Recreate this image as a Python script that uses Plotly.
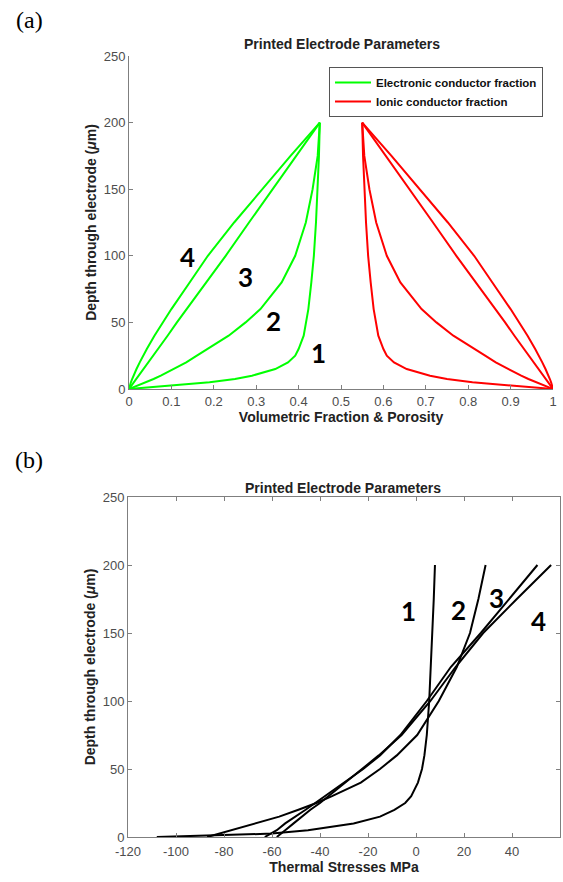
import plotly.graph_objects as go

# ---------------- (a) Volumetric fraction profiles ----------------
depth_a = [0, 1, 2.5, 5, 7.5, 10, 15, 20, 25, 30, 40, 50, 60, 80, 100, 125, 150, 175, 200]

green_1 = [0, 0.04, 0.10, 0.19, 0.25, 0.29, 0.345, 0.375, 0.392, 0.40, 0.412, 0.418, 0.423, 0.43, 0.436, 0.441, 0.445, 0.448, 0.45]
green_2 = [0, 0.008, 0.02, 0.04, 0.058, 0.075, 0.105, 0.135, 0.16, 0.185, 0.235, 0.275, 0.31, 0.36, 0.392, 0.417, 0.433, 0.445, 0.45]
green_3 = [0, 0.0023, 0.0056, 0.011, 0.017, 0.023, 0.034, 0.045, 0.057, 0.068, 0.091, 0.113, 0.136, 0.182, 0.228, 0.283, 0.338, 0.394, 0.45]
green_4 = [0, 0.0006, 0.0019, 0.0045, 0.0074, 0.0106, 0.0177, 0.0253, 0.0334, 0.042, 0.060, 0.0795, 0.100, 0.143, 0.186, 0.248, 0.314, 0.381, 0.45]

red_1 = [1, 0.96, 0.90, 0.81, 0.75, 0.71, 0.655, 0.625, 0.608, 0.60, 0.588, 0.582, 0.577, 0.57, 0.564, 0.559, 0.555, 0.552, 0.55]
red_2 = [1, 0.992, 0.98, 0.96, 0.942, 0.925, 0.895, 0.865, 0.84, 0.815, 0.765, 0.725, 0.69, 0.64, 0.608, 0.583, 0.567, 0.555, 0.55]
red_3 = [1, 0.9977, 0.9944, 0.989, 0.983, 0.977, 0.966, 0.955, 0.943, 0.932, 0.909, 0.887, 0.864, 0.818, 0.772, 0.717, 0.662, 0.606, 0.55]
red_4 = [1, 0.9994, 0.9981, 0.9955, 0.9926, 0.9894, 0.9823, 0.9747, 0.9666, 0.958, 0.940, 0.9205, 0.900, 0.857, 0.814, 0.752, 0.686, 0.619, 0.55]

xticks_a = [0, 0.1, 0.2, 0.3, 0.4, 0.5, 0.6, 0.7, 0.8, 0.9, 1]
xticklabels_a = ["0", "0.1", "0.2", "0.3", "0.4", "0.5", "0.6", "0.7", "0.8", "0.9", "1"]
yticks = [0, 50, 100, 150, 200, 250]
yticklabels = ["0", "50", "100", "150", "200", "250"]

labels_a = ["1", "2", "3", "4"]
label_a_x = [0.446, 0.34, 0.274, 0.139]
label_a_y = [27, 51, 84, 99]

# ---------------- (b) Thermal stresses ----------------
depth_b = [0, 1, 2.5, 5, 10, 15, 20, 25, 30, 40, 50, 60, 75, 100, 125, 150, 175, 200]

stress_1 = [-108, -84, -60, -45, -26, -15, -9, -4.5, -2, 0.8, 2.5, 3.5, 4.5, 5.5, 6.2, 6.9, 7.4, 7.9]
stress_2 = [-87, -85, -82, -76, -66, -57, -49, -41.5, -35, -23, -15, -8, 0.5, 9.5, 17, 22.5, 26, 29]
stress_3 = [-63, -62, -60.5, -58, -54.5, -50, -46, -42, -38, -30, -22, -15, -6.5, 4.5, 14.5, 27, 39, 50.6]
stress_4 = [-58, -57.2, -56, -54.5, -51, -47.5, -44, -40, -36.5, -29.5, -22.5, -15.5, -6, 6, 16.5, 28, 42, 56.3]

xticks_b = [-120, -100, -80, -60, -40, -20, 0, 20, 40, 60]
xticklabels_b = ["-120", "-100", "-80", "-60", "-40", "-20", "0", "20", "40", "60"]
labels_b = ["1", "2", "3", "4"]
label_b_x = [-3, 17.5, 33.5, 51]
label_b_y = [166, 167, 176, 159]

GREEN = "#00ff00"
RED = "#ff0000"
AX_GREY = "#7f7f7f"
TICK_GREY = "#4d4d4d"
FONT = "Liberation Sans"

fig = go.Figure()

greens = [green_1, green_2, green_3, green_4]
reds = [red_1, red_2, red_3, red_4]
for i, g in enumerate(greens):
    fig.add_trace(go.Scatter(x=g, y=depth_a, mode="lines", line=dict(color=GREEN, width=2),
                             name="Electronic conductor fraction", showlegend=(i == 0),
                             legendrank=1, xaxis="x", yaxis="y"))
for i, r in enumerate(reds):
    fig.add_trace(go.Scatter(x=r, y=depth_a, mode="lines", line=dict(color=RED, width=2),
                             name="Ionic conductor fraction", showlegend=(i == 0),
                             legendrank=2, xaxis="x", yaxis="y"))

for s in [stress_1, stress_2, stress_3, stress_4]:
    fig.add_trace(go.Scatter(x=s, y=depth_b, mode="lines", line=dict(color="black", width=2),
                             showlegend=False, xaxis="x2", yaxis="y2"))

W, H = 563, 882
def px_x(p):
    return p / W
def px_y(p):
    return 1 - p / H

axis_common = dict(showgrid=False, zeroline=False, linecolor=AX_GREY, linewidth=1,
                   ticks="inside", ticklen=4, tickcolor=AX_GREY, tickwidth=1, automargin=False,
                   tickfont=dict(family=FONT, size=13, color=TICK_GREY))

ytitle = "<b>Depth through electrode (<i>μ</i>m)</b>"
TFONT = dict(family=FONT, size=14, color="#222")

fig.update_layout(
    width=W, height=H,
    margin=dict(l=0, r=0, t=0, b=0),
    paper_bgcolor="white", plot_bgcolor="white",
    xaxis=dict(domain=[px_x(129), px_x(553)], range=[0, 1], tickvals=xticks_a, ticktext=xticklabels_a,
               anchor="y", showline=True, mirror=False,
               title=dict(text="<b>Volumetric Fraction & Porosity</b>", font=TFONT, standoff=0),
               **axis_common),
    yaxis=dict(domain=[px_y(389), px_y(56)], range=[0, 250], tickvals=yticks, ticktext=yticklabels,
               anchor="x", showline=True, mirror=False,
               title=dict(text=ytitle, font=TFONT, standoff=3),
               **axis_common),
    xaxis2=dict(domain=[px_x(128), px_x(560)], range=[-120, 60], tickvals=xticks_b, ticktext=xticklabels_b,
                anchor="y2", showline=True, mirror="ticks", ticklabelstandoff=2,
                title=dict(text="<b>Thermal Stresses MPa</b>", font=TFONT, standoff=4),
                **axis_common),
    yaxis2=dict(domain=[px_y(837), px_y(497)], range=[0, 250], tickvals=yticks, ticktext=yticklabels,
                anchor="x2", showline=True, mirror="ticks",
                title=dict(text=ytitle, font=TFONT, standoff=3),
                **axis_common),
    legend=dict(x=px_x(329), y=px_y(67), xanchor="left", yanchor="top",
                bgcolor="white", bordercolor="#555", borderwidth=1,
                font=dict(family=FONT, size=11.5, color="#111", weight="bold"),
                itemwidth=36, tracegroupgap=0),
    showlegend=True,
)

annotations = []
annotations.append(dict(text="<b>Printed Electrode Parameters</b>", x=px_x(342), y=px_y(44), xref="paper", yref="paper",
                        showarrow=False, font=TFONT, xanchor="center", yanchor="middle"))
annotations.append(dict(text="<b>Printed Electrode Parameters</b>", x=px_x(343), y=px_y(488), xref="paper", yref="paper",
                        showarrow=False, font=TFONT, xanchor="center", yanchor="middle"))
annotations.append(dict(text="(a)", x=px_x(29), y=px_y(20), xref="paper", yref="paper", showarrow=False,
                        font=dict(family="Liberation Serif", size=24, color="black"), xanchor="center", yanchor="middle"))
annotations.append(dict(text="(b)", x=px_x(29), y=px_y(460), xref="paper", yref="paper", showarrow=False,
                        font=dict(family="Liberation Serif", size=24, color="black"), xanchor="center", yanchor="middle"))
for t, xx, yy in zip(labels_a, label_a_x, label_a_y):
    annotations.append(dict(text="<b>%s</b>" % t, x=xx, y=yy, xref="x", yref="y", showarrow=False,
                            font=dict(family="Lato", size=26, color="black")))
for t, xx, yy in zip(labels_b, label_b_x, label_b_y):
    annotations.append(dict(text="<b>%s</b>" % t, x=xx, y=yy, xref="x2", yref="y2", showarrow=False,
                            font=dict(family="Lato", size=26, color="black")))
fig.update_layout(annotations=annotations)

fig.write_html("out.html", config={"displayModeBar": False},
               post_script="document.body.style.margin='0';document.body.style.overflow='hidden';")
